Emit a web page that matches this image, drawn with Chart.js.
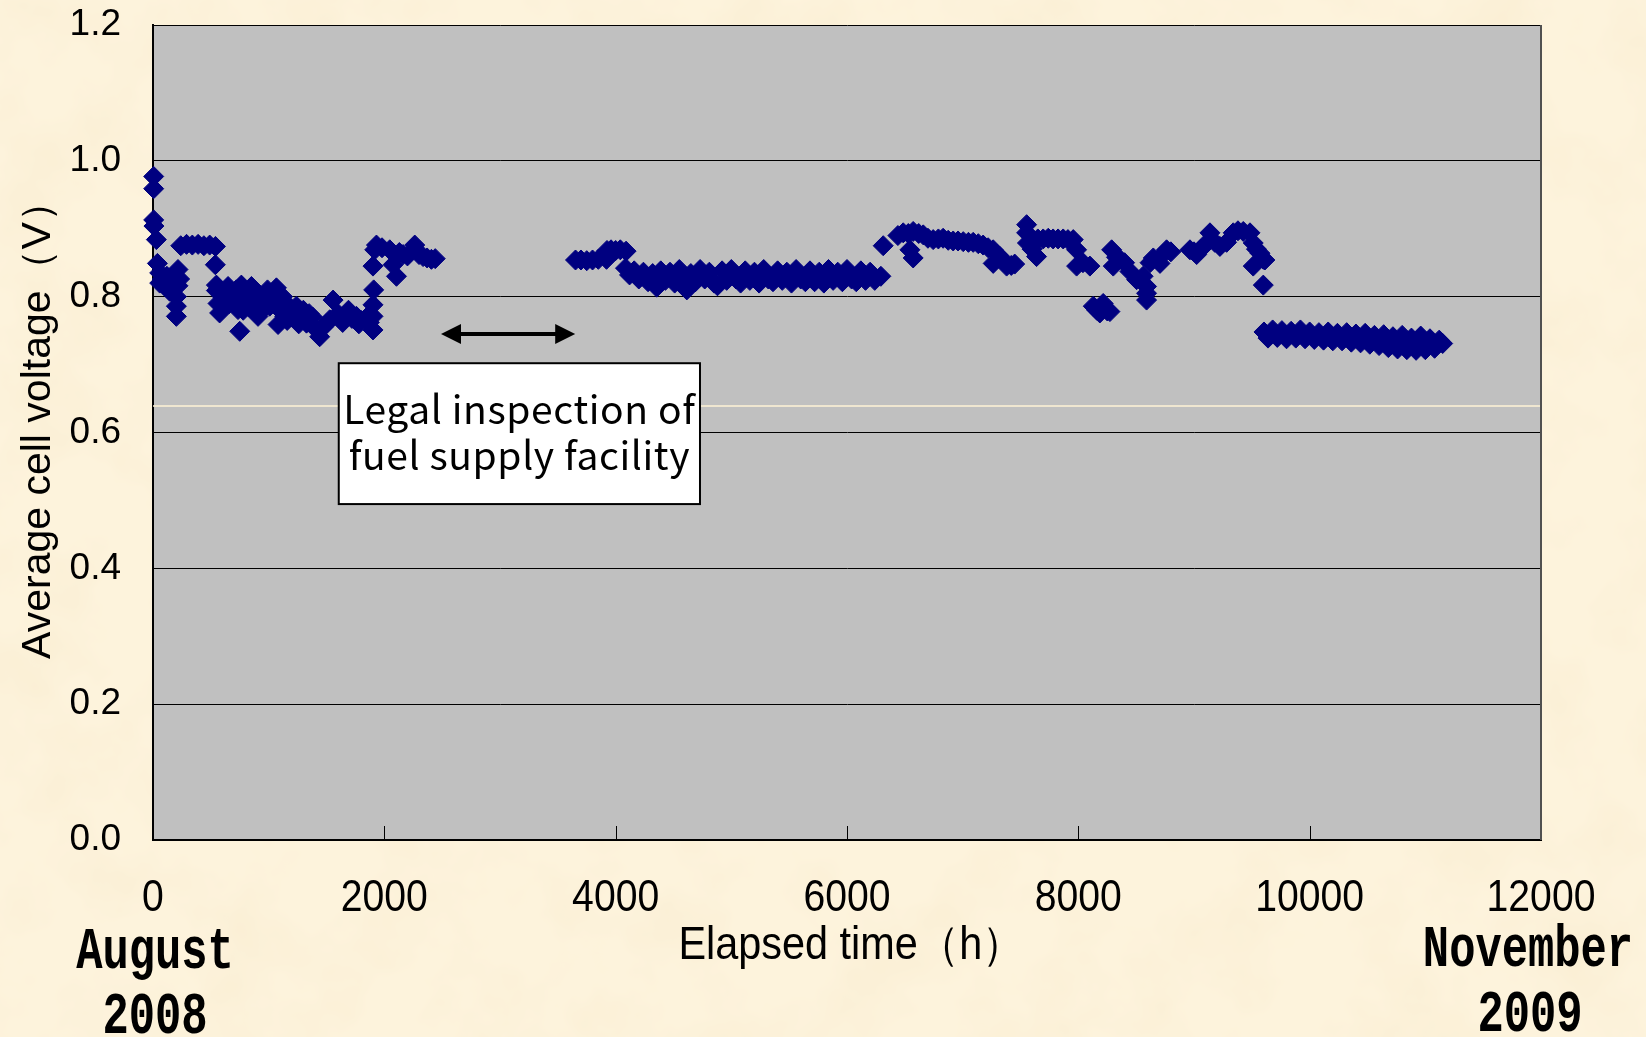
<!DOCTYPE html>
<html>
<head>
<meta charset="utf-8">
<title>Average cell voltage</title>
<script src="https://cdn.jsdelivr.net/npm/chart.js@4.4.1/dist/chart.umd.min.js"></script>
<style>
    html, body { margin: 0; padding: 0; }
    body {
        position: relative;
        width: 1646px;
        height: 1037px;
        overflow: hidden;
        background: #fdf3dc;
    }
    #paper, #chart { position: absolute; left: 0; top: 0; display: block; }
</style>
</head>
<body>
<!-- mottled paper background -->
<svg id="paper" width="1646" height="1037" xmlns="http://www.w3.org/2000/svg">
    <filter id="grain" x="0" y="0" width="100%" height="100%">
        <feTurbulence type="fractalNoise" baseFrequency="0.011" numOctaves="4" seed="7"/>
        <feColorMatrix type="matrix" values="0 0 0 0 0.93  0 0 0 0 0.82  0 0 0 0 0.60  1.0 0 0 0 -0.42"/>
    </filter>
    <rect width="1646" height="1037" fill="#fdf3dc"/>
    <rect width="1646" height="1037" filter="url(#grain)"/>
</svg>
<canvas id="chart" width="1646" height="1037"></canvas>
<script>
// Axis ticks
const hourTicks = [0, 2000, 4000, 6000, 8000, 10000, 12000];
const voltTicks = [0, 0.2, 0.4, 0.6, 0.8, 1.0, 1.2];

// Run from August 2008 up to the fuel facility inspection
const run1Hours = [6, 6, 6, 8, 29, 38, 58, 58, 80, 101, 120, 144, 170, 202, 202, 202, 216, 216, 230,
    240, 290, 340, 390, 440, 490, 540,
    539, 548, 548, 562, 576, 600, 649, 680, 700, 735, 750, 764, 793, 820, 851, 870, 908, 920, 960, 990,
    1009, 1024, 1067, 1081, 1100, 1139, 1180, 1240, 1283, 1300, 1327, 1380, 1441, 1470, 1500, 1528, 1557, 1600, 1672, 1720,
    1759, 1800, 1850, 1902, 1902, 1902, 1908, 1902, 1917, 1932, 1980, 2047, 2076, 2105, 2130, 2162, 2200, 2263, 2300, 2335,
    2370, 2407, 2440,
    620, 660, 720, 780, 830, 880, 940, 1040, 1120, 1160, 1200, 1260, 1350, 1410, 1640, 1690, 1780, 1870];
const run1Volts = [0.977, 0.959, 0.913, 0.904, 0.884, 0.849, 0.835, 0.820, 0.826, 0.816, 0.830, 0.808, 0.820, 0.800, 0.786, 0.771, 0.840, 0.816, 0.826,
    0.875, 0.877, 0.876, 0.877, 0.875, 0.876, 0.874,
    0.847, 0.817, 0.809, 0.790, 0.776, 0.800, 0.815, 0.800, 0.790, 0.781, 0.749, 0.817, 0.795, 0.805, 0.815, 0.790, 0.771, 0.790, 0.800, 0.810,
    0.786, 0.805, 0.813, 0.759, 0.780, 0.771, 0.785, 0.786, 0.771, 0.780, 0.761, 0.770, 0.741, 0.755, 0.760, 0.766, 0.795, 0.775, 0.771, 0.768,
    0.771, 0.765, 0.770, 0.751, 0.771, 0.788, 0.810, 0.845, 0.869, 0.876, 0.872, 0.869, 0.847, 0.830, 0.865, 0.862, 0.860, 0.876, 0.862, 0.859,
    0.857, 0.855, 0.856,
    0.805, 0.790, 0.810, 0.780, 0.785, 0.808, 0.780, 0.790, 0.800, 0.765, 0.770, 0.760, 0.775, 0.752, 0.762, 0.780, 0.760, 0.762];

// Restart after the inspection, steady plateau
const run2Hours = [3653, 3700, 3750, 3800, 3850, 3921, 3925, 3960, 4000, 4040, 4090,
    4085, 4120, 4160, 4200, 4240, 4280, 4320, 4355, 4390, 4430,
    4470, 4510, 4550, 4590, 4615, 4650, 4690, 4730, 4770, 4810,
    4850, 4880, 4920, 4960, 5000, 5040, 5080, 5120, 5160, 5200,
    5240, 5280, 5320, 5360, 5400, 5440, 5480, 5520, 5560, 5600,
    5640, 5680, 5720, 5760, 5800, 5840, 5880, 5920, 5960, 6000,
    6040, 6080, 6120, 6160, 6200, 6240, 6293];
const run2Volts = [0.854, 0.854, 0.853, 0.854, 0.855, 0.855, 0.868, 0.869, 0.868, 0.869, 0.867,
    0.842, 0.832, 0.838, 0.826, 0.836, 0.822, 0.834, 0.814, 0.838, 0.824,
    0.836, 0.820, 0.840, 0.824, 0.810, 0.834, 0.822, 0.840, 0.826, 0.836,
    0.820, 0.816, 0.838, 0.824, 0.840, 0.826, 0.820, 0.838, 0.824, 0.836,
    0.820, 0.840, 0.826, 0.822, 0.838, 0.824, 0.836, 0.820, 0.840, 0.826,
    0.822, 0.838, 0.822, 0.836, 0.820, 0.840, 0.824, 0.836, 0.822, 0.840,
    0.826, 0.822, 0.838, 0.824, 0.836, 0.824, 0.830];

// Higher, more scattered period
const run3Hours = [6313, 6440, 6486, 6530, 6544, 6572, 6572, 6620, 6659, 6700,
    6745, 6790, 6831, 6875, 6918, 6960, 7005, 7050, 7091, 7135,
    7177, 7220, 7264, 7264, 7300, 7322, 7350, 7380, 7420, 7450,
    7553, 7553, 7560, 7600, 7639, 7650, 7696, 7740, 7782, 7825,
    7869, 7910, 7956, 7985, 7985, 8040, 8100, 8129, 8160, 8186,
    8215, 8250, 8273, 8288, 8302, 8330, 8360, 8400, 8446, 8504,
    8560, 8590, 8590, 8590, 8620, 8648, 8706, 8730, 8763, 8800,
    8965, 9000, 9023, 9060, 9109, 9138, 9180, 9224, 9282, 9339,
    9380, 9426, 9484, 9512, 9512, 9540, 9570, 9600, 9613, 9599];
const run3Volts = [0.875, 0.890, 0.894, 0.893, 0.869, 0.857, 0.896, 0.893, 0.891, 0.886,
    0.884, 0.885, 0.886, 0.883, 0.882, 0.882, 0.881, 0.880, 0.880, 0.878,
    0.876, 0.872, 0.869, 0.849, 0.862, 0.859, 0.852, 0.845, 0.846, 0.848,
    0.906, 0.894, 0.879, 0.870, 0.859, 0.885, 0.885, 0.886, 0.885, 0.885,
    0.885, 0.884, 0.884, 0.869, 0.845, 0.850, 0.845, 0.786, 0.780, 0.776,
    0.790, 0.779, 0.778, 0.869, 0.845, 0.858, 0.855, 0.850, 0.837, 0.825,
    0.830, 0.815, 0.805, 0.795, 0.850, 0.857, 0.849, 0.862, 0.869, 0.866,
    0.869, 0.866, 0.862, 0.870, 0.879, 0.894, 0.880, 0.874, 0.880, 0.894,
    0.897, 0.896, 0.894, 0.879, 0.845, 0.870, 0.864, 0.855, 0.854, 0.817];

// Final low plateau up to November 2009
const run4Hours = [9605, 9640, 9680, 9720, 9760, 9800, 9840, 9880, 9920, 9960,
    10000, 10040, 10080, 10120, 10160, 10200, 10240, 10280, 10320, 10360,
    10400, 10440, 10480, 10520, 10560, 10600, 10640, 10680, 10720, 10760,
    10800, 10840, 10880, 10920, 10960, 11000, 11040, 11080, 11120, 11150];
const run4Volts = [0.748, 0.739, 0.751, 0.740, 0.750, 0.738, 0.749, 0.739, 0.751, 0.738,
    0.748, 0.737, 0.747, 0.736, 0.748, 0.735, 0.746, 0.735, 0.747, 0.733,
    0.745, 0.732, 0.746, 0.730, 0.743, 0.728, 0.744, 0.725, 0.741, 0.723,
    0.743, 0.722, 0.739, 0.721, 0.742, 0.722, 0.738, 0.724, 0.736, 0.731];

// Inspection period (hours) and the note text
const inspectionSpan = [2490, 3650];
const inspectionNote = ["Legal inspection of", "fuel supply facility"];
const periodStart = ["August", "2008"];
const periodEnd = ["November", "2009"];

document.addEventListener("DOMContentLoaded", () => {
    const hours = [].concat(run1Hours, run2Hours, run3Hours, run4Hours);
    const volts = [].concat(run1Volts, run2Volts, run3Volts, run4Volts);
    const points = hours.map((h, i) => ({ x: h, y: volts[i] }));

    const sansFont = "'Liberation Sans', Arial, sans-serif";
    const monoFont = "'Liberation Mono', 'DejaVu Sans Mono', monospace";
    const noteFont = "'Noto Sans CJK JP', 'Noto Sans', sans-serif";

    // text squeezed horizontally, like the narrow gothic face on the x axis
    function narrowText(ctx, text, cx, baseline, font, squeeze) {
        ctx.save();
        ctx.font = font;
        ctx.textAlign = "center";
        ctx.textBaseline = "alphabetic";
        ctx.translate(cx, baseline);
        ctx.scale(squeeze, 1);
        ctx.fillText(text, 0, 0);
        ctx.restore();
    }

    const decorations = {
        id: "decorations",
        beforeDraw(chart) {
            // grey plot area
            const { ctx, chartArea: a } = chart;
            ctx.save();
            ctx.fillStyle = "#c0c0c0";
            ctx.fillRect(a.left, a.top, a.width, a.height);
            ctx.restore();
        },
        afterDatasetsDraw(chart) {
            const { ctx, chartArea: a, scales: { x, y } } = chart;
            ctx.save();

            // thin light line across the plot
            ctx.strokeStyle = "#fff3d6";
            ctx.lineWidth = 1.5;
            ctx.beginPath();
            ctx.moveTo(a.left, y.getPixelForValue(0.639));
            ctx.lineTo(a.right, y.getPixelForValue(0.639));
            ctx.stroke();

            // short tick marks pointing up from the x axis
            ctx.strokeStyle = "#000";
            ctx.lineWidth = 1;
            hourTicks.slice(1, -1).forEach(t => {
                const px = Math.round(x.getPixelForValue(t)) + 0.5;
                ctx.beginPath();
                ctx.moveTo(px, a.bottom);
                ctx.lineTo(px, a.bottom - 14);
                ctx.stroke();
            });

            // right frame edge
            ctx.strokeStyle = "#505050";
            ctx.lineWidth = 2;
            ctx.beginPath();
            ctx.moveTo(a.right, a.top);
            ctx.lineTo(a.right, a.bottom);
            ctx.stroke();

            // double-headed arrow over the inspection gap
            const ax1 = x.getPixelForValue(inspectionSpan[0]);
            const ax2 = x.getPixelForValue(inspectionSpan[1]);
            const ay = y.getPixelForValue(0.745);
            ctx.strokeStyle = "#000";
            ctx.fillStyle = "#000";
            ctx.lineWidth = 4;
            ctx.beginPath();
            ctx.moveTo(ax1 + 15, ay);
            ctx.lineTo(ax2 - 15, ay);
            ctx.stroke();
            ctx.beginPath();
            ctx.moveTo(ax1, ay);
            ctx.lineTo(ax1 + 20, ay - 10);
            ctx.lineTo(ax1 + 20, ay + 10);
            ctx.closePath();
            ctx.fill();
            ctx.beginPath();
            ctx.moveTo(ax2, ay);
            ctx.lineTo(ax2 - 20, ay - 10);
            ctx.lineTo(ax2 - 20, ay + 10);
            ctx.closePath();
            ctx.fill();

            // note box
            const bx1 = x.getPixelForValue(1606);
            const bx2 = x.getPixelForValue(4729);
            const by1 = y.getPixelForValue(0.702);
            const by2 = y.getPixelForValue(0.4946);
            ctx.fillStyle = "#fff";
            ctx.fillRect(bx1, by1, bx2 - bx1, by2 - by1);
            ctx.strokeStyle = "#000";
            ctx.lineWidth = 2;
            ctx.strokeRect(bx1, by1, bx2 - bx1, by2 - by1);
            ctx.fillStyle = "#000";
            ctx.font = "39px " + noteFont;
            ctx.letterSpacing = "0.6px";
            ctx.textAlign = "center";
            ctx.textBaseline = "alphabetic";
            const cx = (bx1 + bx2) / 2;
            ctx.fillText(inspectionNote[0], cx, by1 + 61);
            ctx.fillText(inspectionNote[1], cx, by1 + 107);
            ctx.letterSpacing = "0px";

            ctx.restore();
        },
        afterDraw(chart) {
            const { ctx, chartArea: a, scales: { x } } = chart;
            ctx.save();
            ctx.fillStyle = "#000";

            // x tick labels
            hourTicks.forEach(t => {
                narrowText(ctx, String(t), x.getPixelForValue(t), 911, "44px " + sansFont, 0.89);
            });

            // x axis title
            narrowText(ctx, "Elapsed time（h）", (a.left + a.right) / 2 + 4, 959, "46px " + sansFont, 0.9);

            // y axis title
            ctx.save();
            ctx.translate(50, 420);
            ctx.rotate(-Math.PI / 2);
            ctx.font = "41px " + sansFont;
            ctx.textAlign = "center";
            ctx.textBaseline = "alphabetic";
            ctx.fillText("Average cell voltage（V）", 0, 0);
            ctx.restore();

            // start / end month labels under the axis
            const bold = "bold 60px " + monoFont;
            const sx = x.getPixelForValue(hourTicks[0]) + 2;
            narrowText(ctx, periodStart[0], sx, 968, bold, 0.73);
            narrowText(ctx, periodStart[1], sx, 1033, bold, 0.73);
            const ex = chart.width - 118;
            narrowText(ctx, periodEnd[0], ex, 966, bold, 0.73);
            narrowText(ctx, periodEnd[1], ex + 2, 1031, bold, 0.73);
            ctx.restore();
        }
    };

    new Chart(document.getElementById("chart"), {
        type: "scatter",
        data: {
            datasets: [{
                label: "Average cell voltage",
                data: points,
                pointStyle: "rectRot",
                pointRadius: 10,
                pointBorderWidth: 1,
                backgroundColor: "#000080",
                borderColor: "#000080",
                showLine: false,
                clip: false
            }]
        },
        options: {
            responsive: false,
            animation: false,
            events: [],
            layout: { padding: { top: 25, right: 105, left: 0, bottom: 0 } },
            plugins: {
                legend: { display: false },
                tooltip: { enabled: false }
            },
            scales: {
                x: {
                    type: "linear",
                    min: hourTicks[0],
                    max: hourTicks[hourTicks.length - 1],
                    afterFit: s => { s.height = 197; s.paddingLeft = 0; s.paddingRight = 0; },
                    afterBuildTicks: s => { s.ticks = hourTicks.map(v => ({ value: v })); },
                    grid: { display: false, drawTicks: false },
                    border: { display: true, color: "#000", width: 2 },
                    ticks: { display: false },
                    title: { display: false }
                },
                y: {
                    min: voltTicks[0],
                    max: voltTicks[voltTicks.length - 1],
                    afterFit: s => { s.width = 153; s.paddingTop = 0; s.paddingBottom = 0; },
                    afterBuildTicks: s => { s.ticks = voltTicks.map(v => ({ value: v })); },
                    grid: { color: "#000", lineWidth: 1, drawTicks: false },
                    border: { display: true, color: "#000", width: 2 },
                    ticks: {
                        padding: 32,
                        color: "#000",
                        font: { family: sansFont, size: 37 },
                        callback: v => v.toFixed(1)
                    },
                    title: { display: false }
                }
            }
        },
        plugins: [decorations]
    });
});
</script>
</body>
</html>
